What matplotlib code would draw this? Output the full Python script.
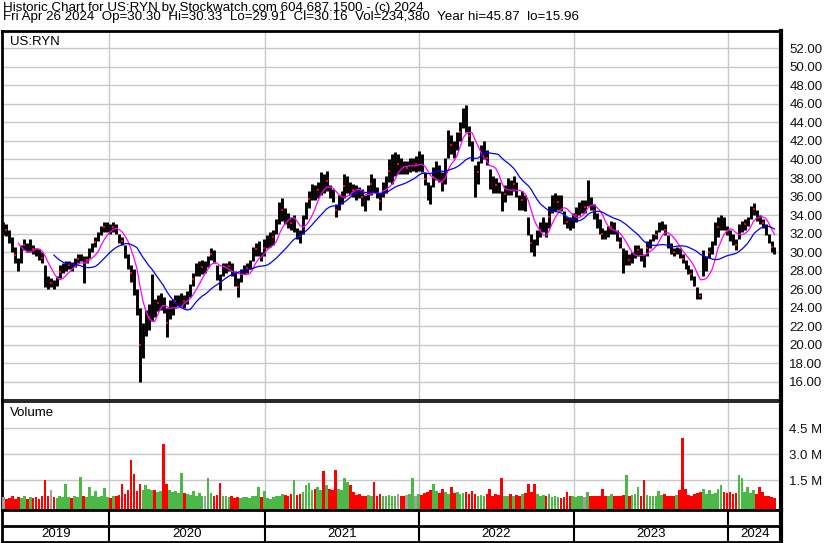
import matplotlib.pyplot as plt
import numpy as np

plt.rcParams['font.family'] = ['Liberation Sans', 'DejaVu Sans']

header1 = "Historic Chart for US:RYN by Stockwatch.com 604.687.1500 - (c) 2024"
header2 = ("Fri Apr 26 2024  Op=30.30  Hi=30.33  Lo=29.91  Cl=30.16  "
           "Vol=234,380  Year hi=45.87  lo=15.96")
symbol = "US:RYN"

years = ["2019", "2020", "2021", "2022", "2023", "2024"]
# week number (from late Apr 2019) where each new year starts
year_starts = [35.7, 88.1, 140.2, 192.3, 244.4]

# weekly price range
low = [31.8, 31.7, 31.0, 30.0, 28.8, 28.0, 28.8, 30.2, 30.0, 30.0,
       29.8, 29.6, 29.2, 28.8, 26.2, 26.0, 26.2, 26.0, 26.4, 27.2,
       27.8, 28.0, 28.2, 28.0, 28.4, 28.8, 29.0, 26.7, 28.8, 29.4,
       30.0, 30.6, 31.2, 31.8, 32.2, 32.2, 32.0, 32.2, 32.0, 31.0,
       30.8, 29.4, 28.2, 26.8, 25.4, 23.2, 16.0, 18.6, 21.0, 21.6,
       22.6, 23.0, 23.6, 23.8, 23.4, 20.8, 22.8, 23.2, 24.0, 24.2,
       24.2, 24.0, 24.4, 25.2, 26.4, 27.4, 27.4, 27.6, 27.8, 28.4,
       29.2, 28.8, 27.0, 25.9, 27.4, 27.8, 28.0, 27.4, 26.4, 25.2,
       26.8, 27.6, 27.8, 28.2, 29.0, 29.6, 29.6, 29.0, 29.6, 30.4,
       30.6, 30.8, 32.0, 33.0, 33.4, 33.0, 32.6, 32.4, 32.2, 31.4,
       31.0, 32.0, 33.6, 34.8, 35.6, 35.6, 35.8, 36.2, 36.4, 36.6,
       35.8, 35.4, 33.8, 34.6, 35.2, 35.8, 36.4, 36.2, 36.0, 35.6,
       35.8, 35.0, 34.4, 35.6, 36.2, 36.4, 35.8, 34.6, 36.0, 36.4,
       37.6, 37.4, 38.2, 38.4, 38.4, 38.4, 38.4, 38.6, 38.8, 38.6,
       38.8, 38.6, 37.2, 35.6, 35.2, 37.0, 37.8, 37.6, 36.6, 37.4,
       40.2, 40.6, 40.2, 41.0, 42.0, 43.4, 43.0, 41.4, 39.8, 36.0,
       37.4, 39.6, 40.0, 39.4, 36.8, 36.4, 36.4, 36.4, 34.4, 35.4,
       36.2, 36.2, 36.6, 36.0, 34.6, 34.6, 34.4, 31.8, 30.0, 29.6,
       30.8, 31.6, 32.2, 31.6, 32.6, 34.2, 34.4, 34.6, 34.4, 33.0,
       32.6, 32.4, 32.6, 33.2, 34.0, 34.2, 34.2, 35.0, 34.6, 33.6,
       32.6, 32.0, 31.4, 31.4, 31.6, 32.0, 32.0, 31.2, 30.4, 27.8,
       28.6, 28.6, 28.8, 29.4, 29.6, 29.0, 28.4, 29.6, 30.4, 31.2,
       31.4, 32.2, 32.4, 31.8, 30.4, 29.8, 29.6, 29.8, 29.4, 28.8,
       28.2, 27.6, 27.0, 26.4, 25.0, 24.9, 27.4, 28.0, 29.4, 29.8,
       30.8, 31.6, 32.4, 32.4, 31.8, 31.2, 30.8, 30.2, 31.4, 32.2,
       32.4, 32.8, 33.6, 34.0, 33.4, 33.0, 32.6, 31.8, 31.0, 30.0,
       29.8]
high = [33.3, 33.0, 32.4, 31.6, 30.6, 29.4, 30.8, 31.4, 31.0, 31.4,
        30.8, 30.5, 30.3, 30.0, 28.6, 27.4, 27.2, 27.0, 27.4, 28.6,
        28.8, 29.0, 29.0, 28.9, 29.4, 29.8, 29.8, 29.6, 29.6, 30.4,
        31.0, 31.6, 32.2, 32.8, 33.2, 33.3, 33.0, 33.2, 33.0, 32.0,
        31.6, 30.8, 29.8, 28.6, 28.2, 26.0, 24.0, 22.4, 23.8, 24.4,
        27.6, 25.0, 25.4, 25.6, 25.2, 24.0, 24.8, 25.0, 25.4, 25.4,
        25.6, 25.4, 25.8, 26.6, 27.8, 28.8, 29.0, 29.2, 29.0, 29.6,
        30.4, 30.2, 28.6, 27.6, 28.8, 28.8, 29.0, 28.8, 28.0, 27.2,
        28.2, 28.6, 28.8, 29.2, 30.6, 31.0, 31.2, 30.0, 31.4, 31.8,
        32.2, 32.4, 33.6, 35.4, 35.8, 34.8, 34.2, 33.8, 34.0, 32.6,
        32.4, 34.0, 35.4, 36.6, 37.4, 37.2, 37.6, 38.6, 38.4, 38.8,
        37.2, 36.8, 35.2, 36.2, 36.6, 38.4, 38.2, 37.6, 37.4, 37.2,
        37.0, 36.8, 36.2, 37.2, 38.4, 38.0, 37.0, 36.4, 37.6, 38.2,
        40.0, 40.6, 40.8, 40.6, 40.2, 39.8, 39.8, 40.2, 40.2, 40.4,
        40.9, 40.6, 38.6, 37.6, 37.2, 39.2, 39.8, 39.4, 38.6, 40.2,
        43.2, 42.6, 42.0, 43.0, 44.0, 45.6, 45.9, 43.6, 42.0, 39.4,
        39.8, 41.6, 42.0, 41.0, 39.0, 38.2, 38.0, 37.6, 36.6, 37.2,
        38.0, 37.8, 38.2, 37.6, 36.2, 36.6, 36.2, 33.8, 32.0, 31.4,
        32.4, 33.2, 33.8, 33.2, 35.0, 36.2, 36.4, 36.2, 36.2, 34.4,
        33.8, 33.8, 34.2, 34.9, 35.4, 35.6, 35.6, 37.8, 36.0, 35.2,
        34.2, 33.6, 32.6, 32.4, 32.8, 33.4, 33.2, 32.4, 31.6, 30.4,
        30.2, 29.8, 30.0, 30.8, 30.8, 30.4, 29.8, 31.2, 31.4, 32.0,
        32.4, 33.2, 33.4, 33.0, 31.8, 31.0, 30.4, 30.6, 30.4, 29.8,
        29.2, 28.6, 28.2, 27.4, 26.2, 25.6, 30.2, 29.6, 30.6, 31.2,
        33.2, 33.8, 34.0, 33.8, 32.8, 32.4, 32.0, 31.4, 33.0, 33.4,
        33.6, 33.8, 35.0, 35.3, 34.6, 34.0, 33.6, 33.0, 32.0, 31.2,
        30.6]
# biggest daily volume of each week, millions
volume = [0.5, 0.4, 0.45, 0.55, 0.4, 0.5, 0.45, 0.55, 0.4, 0.5,
          0.45, 0.5, 0.4, 0.55, 1.5, 0.6, 0.9, 0.5, 0.45, 0.55,
          0.5, 1.25, 0.5, 0.45, 0.55, 0.5, 1.65, 0.6, 0.5, 1.1,
          0.55, 0.85, 0.5, 0.6, 1.05, 0.5, 0.45, 0.6, 0.55, 0.65,
          1.25, 0.7, 0.9, 2.65, 1.85, 0.85, 1.25, 0.95, 1.2, 1.0,
          0.9, 0.95, 0.8, 0.85, 3.6, 1.25, 0.9, 0.8, 0.85, 0.75,
          1.9, 0.75, 0.7, 0.65, 0.85, 0.6, 0.75, 0.6, 0.55, 1.6,
          0.75, 0.6, 0.65, 1.35, 0.6, 0.55, 0.5, 0.55, 0.45, 0.5,
          0.45, 0.5, 0.5, 0.45, 0.55, 0.6, 1.1, 0.5, 0.85, 0.45,
          0.4, 0.5, 0.55, 0.6, 0.7, 0.65, 0.6, 0.7, 1.5, 0.65,
          0.7, 0.8, 1.2, 1.35, 0.9, 1.0, 1.1, 0.9, 2.0, 1.2,
          1.0, 0.95, 2.05, 1.0, 0.9, 1.6, 1.4, 1.2, 0.8, 0.65,
          0.7, 0.6, 0.55, 0.65, 0.6, 1.4, 0.6, 0.7, 0.55, 0.6,
          0.65, 0.55, 0.6, 0.7, 0.55, 0.6, 0.65, 0.7, 1.6, 0.6,
          0.7, 0.65, 0.75, 0.8, 0.9, 1.25, 0.85, 0.75, 1.0, 0.8,
          0.7, 1.1, 0.75, 0.8, 0.7, 0.75, 0.8, 0.7, 0.85, 0.7,
          0.6, 0.65, 0.6, 0.7, 1.0, 0.6, 0.7, 0.65, 1.6, 0.6,
          0.55, 0.7, 0.6, 0.65, 0.6, 0.7, 0.75, 1.25, 0.8, 1.25,
          0.7, 0.6, 0.65, 0.55, 0.7, 0.5, 0.55, 0.5, 0.45, 0.5,
          0.8, 0.55, 0.6, 0.5, 0.55, 0.6, 0.5, 0.8, 0.55, 0.6,
          0.55, 0.6, 1.0, 0.6, 0.55, 0.7, 0.6, 0.55, 0.6, 0.65,
          1.8, 0.6, 0.65, 0.7, 1.1, 0.6, 1.5, 0.65, 0.6, 0.55,
          0.6, 0.85, 0.65, 0.7, 0.6, 0.55, 0.6, 0.65, 0.9, 3.9,
          1.0, 0.65, 0.6, 0.7, 0.75, 0.8, 1.0, 0.7, 0.95, 0.7,
          0.75, 1.0, 1.2, 0.8, 0.75, 0.8, 0.7, 0.75, 1.8, 1.6,
          0.8, 1.1, 0.75, 0.95, 0.7, 1.1, 0.8, 0.6, 0.55, 0.5,
          0.45]

W, H = 830, 543


def box(l, t, r, b):
    # pixel box -> figure fraction rect
    return [l / W, 1 - b / H, (r - l) / W, (b - t) / H]


weeks = np.arange(len(low))
low = np.array(low)
high = np.array(high)
mid = (low + high) / 2
ma_fast = np.convolve(mid, np.ones(6) / 6, mode='valid')
ma_slow = np.convolve(mid, np.ones(18) / 18, mode='valid')
xlim = (-0.5, 262.2)
grid_c = '#c8c8c8'

fig = plt.figure(figsize=(8.3, 5.43), dpi=100)
fig.text(3 / W, 1 - 1.5 / H, header1 + "\n" + header2, fontsize=9.6,
         va='top', linespacing=0.7)

# price panel
ax1 = fig.add_axes(box(2, 31, 781, 400))
ax1.set_xlim(*xlim)
ax1.set_ylim(14.05, 53.86)
ax1.set_yticks(np.arange(16, 53, 2))
ax1.set_yticklabels([f"{v:.2f}" for v in np.arange(16, 53, 2)])
ax1.yaxis.tick_right()
ax1.tick_params(axis='y', length=0, pad=6, labelsize=9.5, labelcolor='#111111')
ax1.set_xticks([])
ax1.grid(axis='y', color=grid_c, lw=1)
for x in year_starts:
    ax1.axvline(x, color=grid_c, lw=1)
ax1.vlines(weeks, low, high, color='black', lw=2.1, zorder=3)
ax1.plot(weeks[1::3], mid[1::3], 's', color='red', ms=1.6, mew=0, zorder=4)
ax1.plot(weeks[5:], ma_fast, color='#ff00ff', lw=0.9, zorder=5)
ax1.plot(weeks[17:], ma_slow, color='#0000ff', lw=0.9, zorder=5)
ax1.text(8 / 779, 0.970, symbol, fontsize=9.5, va='center',
         transform=ax1.transAxes)
ax1.spines['top'].set_linewidth(2)
ax1.spines['left'].set_linewidth(2)
ax1.spines['right'].set_linewidth(3)
ax1.spines['bottom'].set_linewidth(1.2)

# volume panel
ax2 = fig.add_axes(box(2, 402, 781, 510))
ax2.set_xlim(*xlim)
ax2.set_ylim(-0.23, 6.0)
ax2.set_yticks([1.5, 3.0, 4.5])
ax2.set_yticklabels(["1.5 M", "3.0 M", "4.5 M"])
ax2.yaxis.tick_right()
ax2.tick_params(axis='y', length=0, pad=6, labelsize=9.5, labelcolor='#111111')
ax2.set_xticks([])
ax2.grid(axis='y', color=grid_c, lw=1)
for x in year_starts:
    ax2.axvline(x, color=grid_c, lw=1)
chg = np.diff(mid, prepend=mid[0])
vcol = ['#4cb848' if c > 0 else ('#ff0000' if c < 0 else '#a0a0a0') for c in chg]
ax2.bar(weeks, np.array(volume) + 0.23, bottom=-0.23, width=0.9,
        color=vcol, zorder=3)
ax2.text(8 / 779, 0.898, "Volume", fontsize=9.5, va='center',
         transform=ax2.transAxes)
ax2.spines['top'].set_linewidth(1.2)
ax2.spines['left'].set_linewidth(2)
ax2.spines['right'].set_linewidth(3)
ax2.spines['bottom'].set_linewidth(2)

# date strip
ax3 = fig.add_axes(box(2, 510, 781, 542))
ax3.set_xlim(*xlim)
ax3.set_ylim(0, 1)
ax3.set_xticks([])
ax3.set_yticks([])
ax3.axhline(0.5, color='black', lw=2)
for x in year_starts:
    ax3.axvline(x, color='black', lw=1.5)
edges = [xlim[0]] + year_starts + [xlim[1]]
for i, name in enumerate(years):
    ax3.text((edges[i] + edges[i + 1]) / 2, 0.24, name, fontsize=9.5,
             ha='center', va='center')
for s in ax3.spines.values():
    s.set_linewidth(2)
ax3.spines['right'].set_linewidth(3)

fig.savefig('out.png', dpi=100)
